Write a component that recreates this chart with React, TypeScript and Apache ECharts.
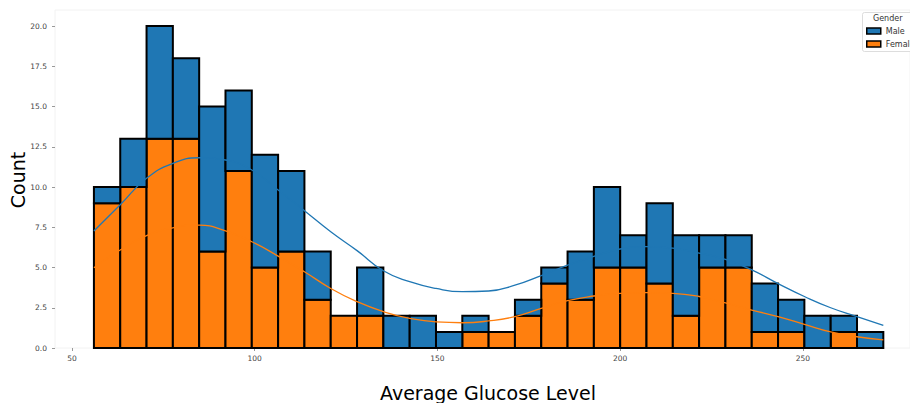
import React, { useEffect, useRef } from "react";
import * as echarts from "echarts";

const binEdges = [56, 63.2, 70.4, 77.6, 84.8, 92, 99.2, 106.4, 113.6, 120.8, 128, 135.2, 142.4, 149.6, 156.8, 164, 171.2, 178.4, 185.6, 192.8, 200, 207.2, 214.4, 221.6, 228.8, 236, 243.2, 250.4, 257.6, 264.8, 272];
const femaleCounts = [9, 10, 13, 13, 6, 11, 5, 6, 3, 2, 2, 0, 0, 0, 1, 1, 2, 4, 3, 5, 5, 4, 2, 5, 5, 1, 1, 0, 1, 0];
const maleCounts = [1, 3, 7, 5, 9, 5, 7, 5, 3, 0, 3, 2, 2, 1, 1, 0, 1, 1, 3, 5, 2, 5, 5, 2, 2, 3, 2, 2, 1, 1];
// stacked KDE curves evaluated at the bin edges
const kdeTotal = [7.27, 8.9, 10.54, 11.47, 11.82, 11.68, 11.06, 9.81, 8.53, 7.22, 6.05, 4.8, 4.12, 3.7, 3.5, 3.54, 3.9, 4.5, 5.15, 5.7, 6.15, 6.3, 6.2, 5.9, 5.5, 4.85, 4.0, 3.2, 2.5, 1.95, 1.4];
const kdeFemale = [4.99, 6.09, 6.98, 7.47, 7.64, 7.27, 6.6, 5.71, 4.74, 3.7, 2.88, 2.26, 1.84, 1.62, 1.57, 1.68, 1.95, 2.46, 2.94, 3.23, 3.4, 3.44, 3.4, 3.2, 2.8, 2.36, 1.95, 1.47, 1.0, 0.7, 0.5];
const xTicks = [50, 100, 150, 200, 250];
const yTicks = [0, 2.5, 5, 7.5, 10, 12.5, 15, 17.5, 20];

const BLUE = "#1f77b4";
const ORANGE = "#ff7f0e";
const FONT = "DejaVu Sans";

export default function App() {
  const ref = useRef<HTMLDivElement>(null);
  useEffect(() => {
    if (!ref.current) return;
    const chart = echarts.init(ref.current, null, { renderer: "svg" });

    const femaleData = femaleCounts.map((c, i) => [binEdges[i], binEdges[i + 1], 0, c]);
    const maleData = maleCounts.map((c, i) => [binEdges[i], binEdges[i + 1], femaleCounts[i], femaleCounts[i] + c]);

    const makeRender = (fill: string) => (params: any, api: any) => {
      const y0 = api.value(2);
      const y1 = api.value(3);
      if (y1 - y0 <= 0) return null;
      const p0 = api.coord([api.value(0), y1]);
      const p1 = api.coord([api.value(1), y0]);
      return {
        type: "rect",
        shape: { x: p0[0], y: p0[1], width: p1[0] - p0[0], height: p1[1] - p0[1] },
        style: { fill, stroke: "#000", lineWidth: 2 },
      };
    };

    chart.setOption({
      animation: false,
      backgroundColor: "#fff",
      grid: { left: 55, right: 0, top: 10, bottom: 55, show: true, borderColor: "#f2f2f2", borderWidth: 1, backgroundColor: "transparent" },
      xAxis: {
        type: "value",
        min: 45.35,
        max: 279.3,
        axisLine: { show: false },
        splitLine: { show: false },
        axisTick: { show: true, customValues: xTicks, length: 3, lineStyle: { color: "#999" } },
        axisLabel: { customValues: xTicks, fontSize: 7.5, color: "#444", fontFamily: FONT, margin: 6 },
      },
      yAxis: {
        type: "value",
        min: 0,
        max: 21,
        axisLine: { show: false },
        splitLine: { show: false },
        axisTick: { show: true, customValues: yTicks, length: 3, lineStyle: { color: "#999" } },
        axisLabel: {
          customValues: yTicks,
          fontSize: 7.5,
          color: "#444",
          fontFamily: FONT,
          margin: 8,
          formatter: (v: number) => v.toFixed(1),
        },
      },
      legend: {
        orient: "vertical",
        left: 866,
        top: 27,
        itemWidth: 14,
        itemHeight: 6,
        itemGap: 5,
        padding: 0,
        textStyle: { fontSize: 8, color: "#333", fontFamily: FONT },
        data: [
          { name: "Male", icon: "rect", itemStyle: { color: BLUE, borderColor: "#000", borderWidth: 1.5 } },
          { name: "Female", icon: "rect", itemStyle: { color: ORANGE, borderColor: "#000", borderWidth: 1.5 } },
        ],
      },
      graphic: [
        { type: "rect", left: 862, top: 12, shape: { width: 60, height: 39, r: 2 }, style: { fill: "#fff", stroke: "#ddd", lineWidth: 1 }, z: 0 },
        { type: "text", left: 873, top: 14, style: { text: "Gender", fontSize: 8, fill: "#333", fontFamily: FONT }, z: 1 },
        { type: "text", x: 18, y: 180, rotation: Math.PI / 2, style: { text: "Count", fontSize: 19, fill: "#000", fontFamily: FONT, align: "center", verticalAlign: "middle" } },
        { type: "text", x: 488, y: 393, style: { text: "Average Glucose Level", fontSize: 19, fill: "#000", fontFamily: FONT, align: "center", verticalAlign: "middle" } },
      ],
      series: [
        { name: "Female", type: "custom", renderItem: makeRender(ORANGE), data: femaleData, encode: { x: [0, 1], y: [2, 3] }, itemStyle: { color: ORANGE }, z: 2 },
        { name: "Male", type: "custom", renderItem: makeRender(BLUE), data: maleData, encode: { x: [0, 1], y: [2, 3] }, itemStyle: { color: BLUE }, z: 2 },
        { name: "kdeMale", type: "line", smooth: 0.5, showSymbol: false, data: binEdges.map((x, i) => [x, kdeTotal[i]]), lineStyle: { color: BLUE, width: 1.3 }, itemStyle: { color: BLUE }, z: 3 },
        { name: "kdeFemale", type: "line", smooth: 0.5, showSymbol: false, data: binEdges.map((x, i) => [x, kdeFemale[i]]), lineStyle: { color: ORANGE, width: 1.3 }, itemStyle: { color: ORANGE }, z: 3 },
      ],
    });
    return () => chart.dispose();
  }, []);
  return <div ref={ref} style={{ position: "fixed", left: 0, top: 0, width: 910, height: 403 }} />;
}
